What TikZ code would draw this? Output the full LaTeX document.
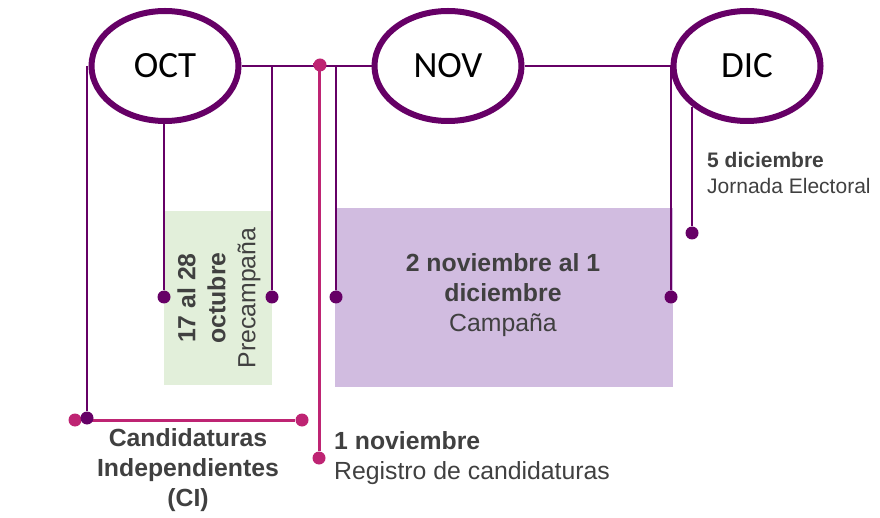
\documentclass[tikz,border=0pt]{standalone}
\usepackage{fontspec}
\setmainfont{Liberation Sans}
\newfontfamily\mesfont{Carlito}
\usetikzlibrary{shapes.geometric}
\definecolor{morado}{RGB}{102,0,102}
\definecolor{magenta2}{RGB}{190,36,115}
\definecolor{verdeclaro}{RGB}{226,239,218}
\definecolor{moradoclaro}{RGB}{209,188,224}
\definecolor{textogris}{RGB}{64,64,64}
\begin{document}
\begin{tikzpicture}[x=1pt,y=-1pt,
		mes/.style={ellipse, draw=morado, line width=6pt, fill=white, minimum width=147pt, minimum height=110pt, inner sep=0pt, font=\mesfont\fontsize{37}{40}\selectfont},
		linea/.style={draw=morado, line width=1.8pt},
		lineaci/.style={draw=magenta2, line width=3pt},
		punto/.style={circle, fill=morado, minimum size=13pt, inner sep=0pt},
		puntoci/.style={circle, fill=magenta2, minimum size=13pt, inner sep=0pt},
		etiqueta/.style={text=textogris, font=\fontsize{24.8}{30}\selectfont, inner sep=0pt}]
			\useasboundingbox (0,0) rectangle (880,518);
			\fill[verdeclaro] (164,211) rectangle (272,385);
			\fill[moradoclaro] (335,208) rectangle (673,387);
			\node[mes] (oct) at (165,66) {OCT};
			\node[mes] (nov) at (448,66) {NOV};
			\node[mes] (dic) at (747,66) {DIC};
			\draw[linea] (oct) -- (nov) (nov) -- (dic);
			% candidaturas independientes
			\node[puntoci] (ciizq) at (75,420) {};
			\node[puntoci] (cider) at (302,420) {};
			\draw[lineaci] (ciizq) -- (cider);
			\node[punto] (pinicio) at (87,418) {};
			\draw[linea] (pinicio |- oct.west) -- (pinicio);
			% precampana
			\node[punto] (pre1) at (164,297) {};
			\node[punto] (pre2) at (272,297) {};
			\draw[linea] (pre1 |- oct.south) -- (pre1);
			\draw[linea] (pre2 |- oct.east) -- (pre2);
			% registro
			\node[puntoci] (reg1) at (320,65) {};
			\node[puntoci] (reg2) at (319,458) {};
			\draw[lineaci] (reg1) -- (reg2 |- reg1) -- (reg2);
			% campana
			\node[punto] (cam1) at (336,297) {};
			\node[punto] (cam2) at (671,297) {};
			\draw[linea] (cam1 |- nov.west) -- (cam1);
			\draw[linea] (cam2 |- dic.west) -- (cam2);
			% jornada
			\node[punto] (jor) at (692,233) {};
			\draw[linea] (jor |- dic.south west) -- (jor);
			% textos
			\node[etiqueta, rotate=90, align=center] (precampana) at (219,298) {\textbf{17 al 28}\\\textbf{octubre}\\Precampaña};
			\node[etiqueta, align=center] (campana) at (503,295) {\textbf{2 noviembre al 1}\\\textbf{diciembre}\\Campaña};
			\node[etiqueta, align=center] (ci) at (188,470) {\textbf{Candidaturas}\\\textbf{Independientes}\\\textbf{(CI)}};
			\node[etiqueta, align=left, anchor=west] (registro) at (334,458) {\textbf{1 noviembre}\\Registro de candidaturas};
			\node[etiqueta, align=left, anchor=west, font=\fontsize{21}{26}\selectfont] (jornada) at (707,173) {\textbf{5 diciembre}\\Jornada Electoral};
		\end{tikzpicture}
\end{document}
